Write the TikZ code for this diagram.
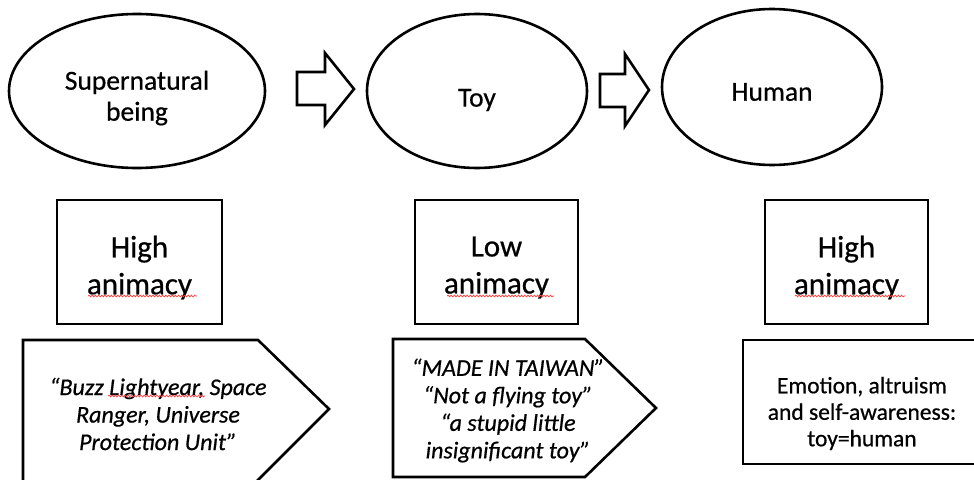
\documentclass[tikz,border=0pt]{standalone}
\usepackage{fontspec}
\setmainfont{Carlito}[FakeBold=0.6]
\usetikzlibrary{shapes.geometric,decorations.pathmorphing}
\begin{document}
\begin{tikzpicture}[x=1pt,y=-1pt]
\tikzset{
 shapeline/.style={draw=black, line width=2.6pt, line join=miter},
 oval/.style={shapeline, ellipse, inner sep=0pt},
 box/.style={shapeline, rectangle, inner sep=0pt},
 lbl/.style={align=center, inner sep=0pt, font=\fontsize{27.5}{31}\selectfont},
 anim/.style={align=center, inner sep=0pt, font=\fontsize{31}{37}\selectfont},
 quotetxt/.style={align=center, inner sep=0pt, font=\itshape\fontsize{24}{27.5}\selectfont},
 plaintxt/.style={align=center, inner sep=0pt, font=\fontsize{23.5}{26.5}\selectfont},
 squiggle/.style={draw=red!75!white, line width=0.7pt, decorate, decoration={snake, amplitude=0.9pt, segment length=3.2pt}},
 blockarrow/.style={shapeline, fill=white}
}
\useasboundingbox (0,0) rectangle (974,479);
\clip (0,0) rectangle (974,479);
\fill[white] (0,0) rectangle (974,479);

% top row: ellipses
\node[oval, minimum width=256pt, minimum height=154pt] (e1) at (137,91) {};
\node[oval, minimum width=220pt, minimum height=154pt] (e2) at (477,91) {};
\node[oval, minimum width=220pt, minimum height=156pt] (e3) at (772,87) {};
\node[lbl] (t1) at (137,98) {Supernatural\\being};
\node[lbl] (t2) at (477,100) {Toy};
\node[lbl] (t3) at (772,92) {Human};

% block arrows
\coordinate (a1) at (297,89);
\coordinate (a2) at (600,90);
\draw[blockarrow] ([shift={(0,-17)}]a1) -- ++(28,0) -- ++(0,-19) -- ++(29,36) -- ++(-29,36) -- ++(0,-20) -- ++(-28,0) -- cycle;
\draw[blockarrow] ([shift={(0,-16)}]a2) -- ++(25,0) -- ++(0,-20) -- ++(24,36) -- ++(-24,36) -- ++(0,-19) -- ++(-25,0) -- cycle;

% middle row: animacy boxes
\node[box, minimum width=165pt, minimum height=124pt] (b1) at (139.5,262) {};
\node[box, minimum width=163pt, minimum height=124pt] (b2) at (496.5,262) {};
\node[box, minimum width=163pt, minimum height=124pt] (b3) at (846.5,262) {};
\node[anim] (h1) at (139.5,267.5) {High\\animacy};
\node[anim] (h2) at (496.5,267.5) {Low\\animacy};
\node[anim] (h3) at (846.5,267.5) {High\\animacy};
\draw[squiggle] (88,296) -- (197,296);
\draw[squiggle] (447,296) -- (554,296);
\draw[squiggle] (795,296) -- (905,296);

% bottom row
\draw[shapeline] (23,340) -- (258,340) -- (329,409) -- (256,482) -- (23,482) -- cycle;
\draw[shapeline] (393,339) -- (585,339) -- (656,408) -- (585,477) -- (393,477) -- cycle;
\draw[shapeline] (743,340) rectangle (990,464);
\node[quotetxt] (q1) at (158,414) {“Buzz Lightyear, Space\\Ranger, Universe\\Protection Unit”};
\node[quotetxt] (q2) at (508,410.5) {“MADE IN TAIWAN”\\“Not a flying toy”\\“a stupid little\\insignificant toy”};
\node[plaintxt] (q3) at (862,413.5) {Emotion, altruism\\and self-awareness:\\toy=human};
\draw[squiggle] (108,396) -- (205,396);
\end{tikzpicture}
\end{document}
